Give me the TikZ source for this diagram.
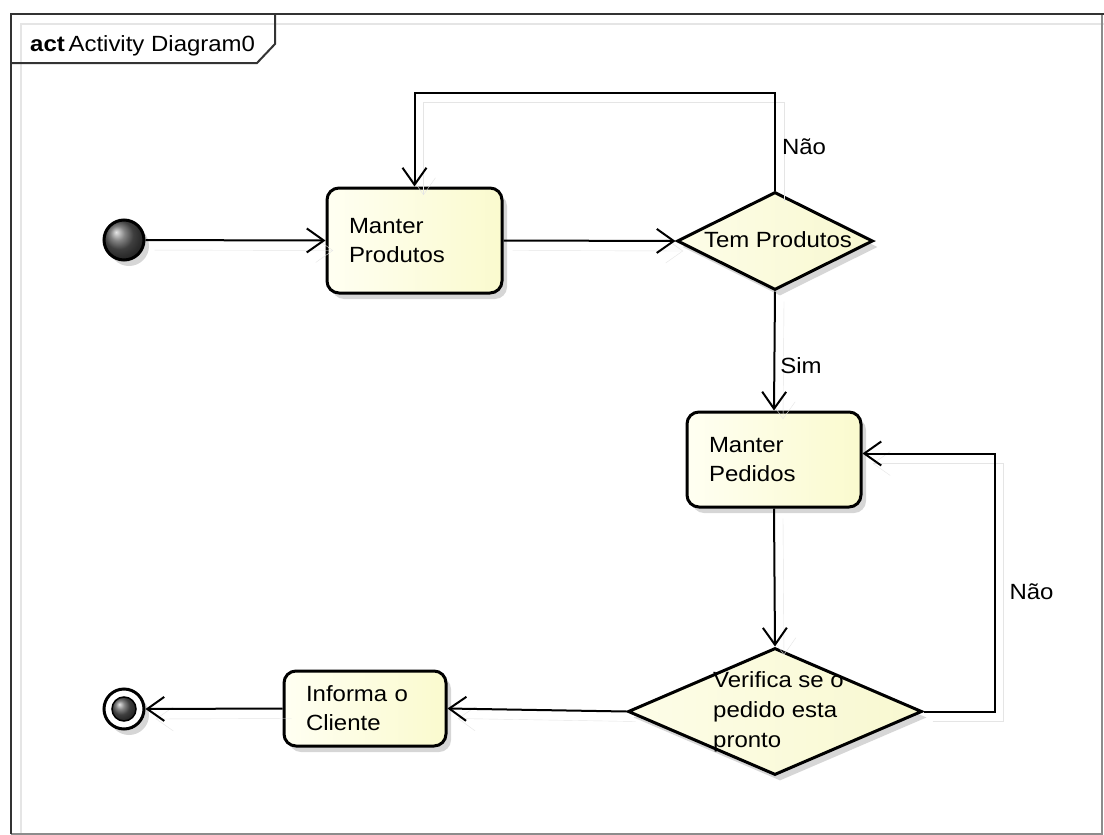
\documentclass[tikz,border=0pt]{standalone}
\usepackage{fontspec}
\setmainfont[FakeStretch=1.09]{Liberation Sans}
\usetikzlibrary{arrows.meta,shapes.geometric,shadows,calc}

\definecolor{actL}{RGB}{255,255,242}
\definecolor{actR}{RGB}{250,250,206}
\definecolor{decL}{RGB}{253,253,232}
\definecolor{decR}{RGB}{248,248,208}

\begin{document}
\begin{tikzpicture}[x=1pt,y=-1pt,
  lbl/.style={font=\fontsize{22}{30}\selectfont, inner sep=0pt},
  nodeshadow/.style={drop shadow={shadow xshift=5pt, shadow yshift=-6pt, fill=black, opacity=0.16}},
  action/.style={draw, line width=3pt, rounded corners=12pt, nodeshadow,
    left color=actL, right color=actR, align=left, inner xsep=22pt, inner ysep=0pt,
    font=\fontsize{22}{29}\selectfont},
  decision/.style={draw, line width=3pt, diamond, inner sep=0pt, nodeshadow,
    left color=decL, right color=decR},
  flow/.style={line width=2pt, -{Straight Barb[length=17pt, width=24pt, line width=2pt]},
    preaction={draw=black!10, transform canvas={shift={(9pt,-10pt)}}}},
  ]
\useasboundingbox (0,0) rectangle (1104,835);
\fill[white] (0,0) rectangle (1104,835);

% diagram frame with its name tab
\draw[black!10, line width=2pt] (21,834) -- (21,24) -- (1104,24);
\draw[black!45, line width=1.5pt] (11,834) -- (1102,834) -- (1102,14);
\draw[black!80, line width=2.5pt] (11,834) -- (11,14) -- (1104,14);
\draw[black!80, line width=2pt] (11,63) -- (257,63) -- (275,44) -- (275,14);
\node[anchor=base west, inner sep=0pt, font=\fontsize{22}{24}\selectfont] (title) at (30,51)
  {\textbf{act}\,Activity Diagram0};

% initial and final nodes
\node[circle, draw, line width=3pt, minimum size=40pt, inner sep=0pt, ball color=gray!70!black,
  nodeshadow] (start) at (124,240) {};
\node[circle, draw, line width=3pt, minimum size=40pt, inner sep=0pt, fill=white,
  nodeshadow] (final) at (124,709) {};
\node[circle, draw, line width=1.5pt, minimum size=24pt, inner sep=0pt, ball color=gray!70!black]
  (finalcore) at (final) {};

% actions
\node[action, text width=131pt, minimum height=105pt] (produtos) at (414.5,240.5)
  {Manter\\Produtos};
\node[action, text width=130pt, minimum height=95pt] (pedidos) at (774,459.5)
  {Manter\\Pedidos};
\node[action, text width=118pt, minimum height=75pt] (cliente) at (365,708.5)
  {Informa o\\Cliente};

% decisions
\node[decision, minimum width=196pt, minimum height=98pt] (temprod) at (775,241) {};
\node[lbl] (temprodtxt) at (778,240) {Tem Produtos};
\node[decision, minimum width=294pt, minimum height=127pt] (pronto) at (775,711.5) {};
\node[lbl, anchor=west, align=left] (prontotxt) at (713,712)
  {Verifica se o\\pedido esta\\pronto};

% control flows
\draw[flow] (start) -- (produtos.west);
\draw[flow] (produtos.east) -- (temprod.west);
\draw[flow] (temprod.north) -- ++(0,-98) node[lbl, pos=0.45, anchor=west, xshift=6pt] (nao1) {Não}
  -| (produtos.north);
\draw[flow] (temprod.south) -- node[lbl, pos=0.62, anchor=west, xshift=5pt] (sim) {Sim} (pedidos.north);
\draw[flow] (pedidos.south) -- (pronto.north);
\draw[flow] (pronto.east) -- ++(71,0) |- node[lbl, pos=0.233, anchor=west, xshift=14pt] (nao2) {Não}
  ([yshift=6pt]pedidos.east);
\draw[flow] (pronto.west) -- (cliente.east);
\draw[flow] (cliente.west) -- (final.east);
\end{tikzpicture}
\end{document}
